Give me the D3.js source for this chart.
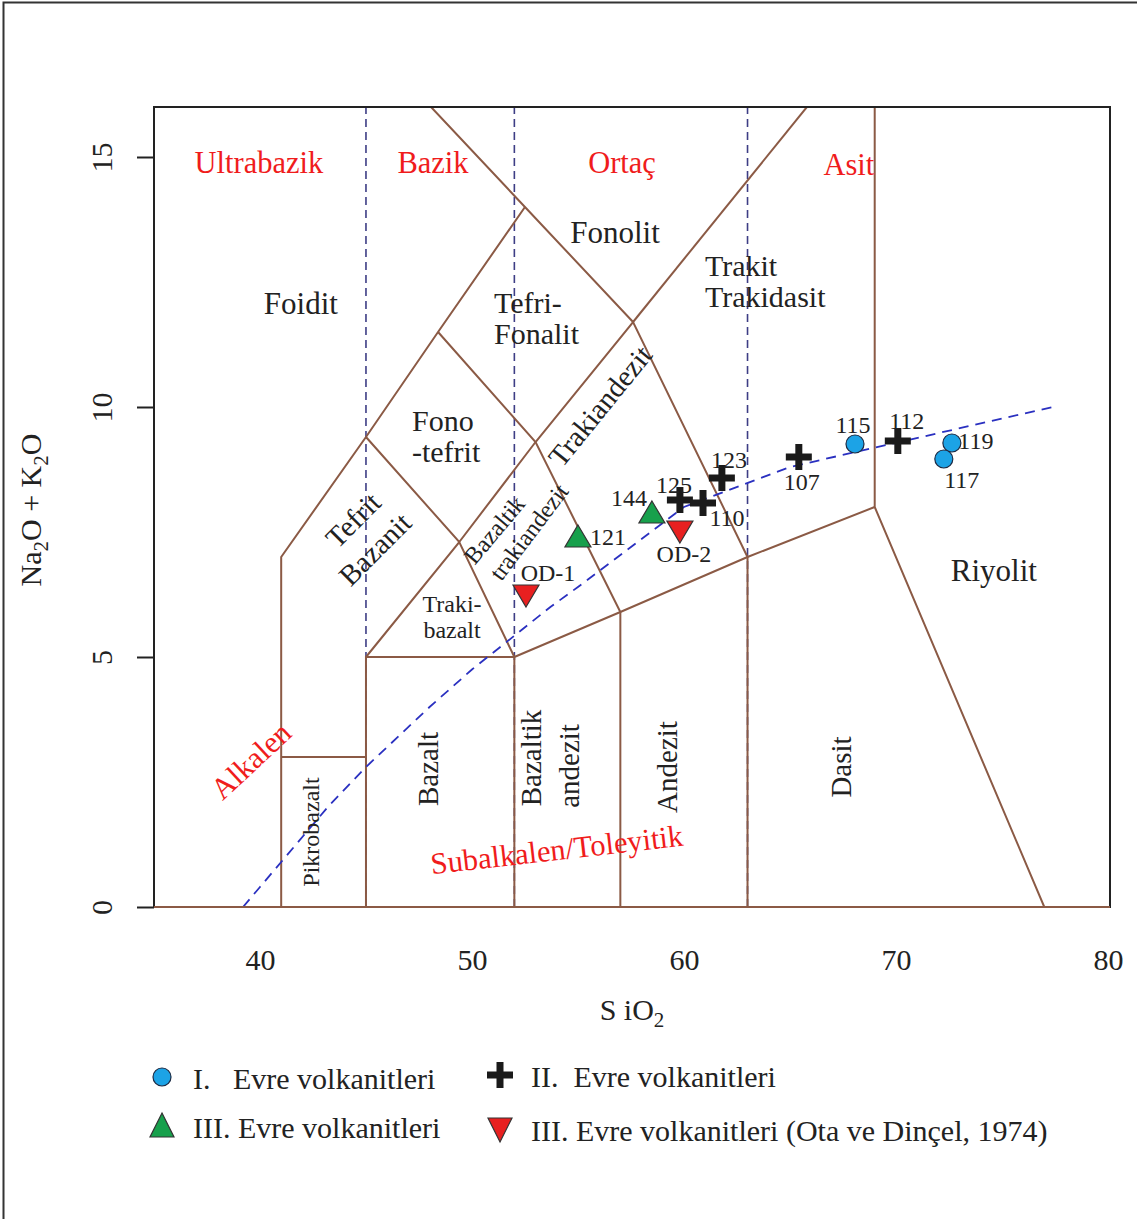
<!DOCTYPE html>
<meta charset="utf-8">
<title>TAS diyagramı</title>
<style>
  body { margin: 0; background: #fff; }
  svg text { font-family: "Liberation Serif", "Times New Roman", serif; }
</style>
<body>
<div id="chart"></div>
<script src="https://d3js.org/d3.v7.min.js"></script>
<script>
// ---- data (SiO2, Na2O+K2O) ----
var xTicks = [40, 50, 60, 70, 80];
var yTicks = [0, 5, 10, 15];

// TAS field boundaries (Le Bas et al., 1986), polylines
var fieldLines = [
  [[35, 0], [80.1, 0]],
  [[41, 0], [41, 7], [45, 9.4], [48.4, 11.5], [52.5, 14]],
  [[48.07, 16], [52.5, 14], [57.6, 11.7]],
  [[57.6, 11.7], [65.8, 16]],
  [[41, 3], [45, 3]],
  [[45, 0], [45, 5], [52, 5]],
  [[52, 0], [52, 5], [57, 5.9], [63, 7], [69, 8]],
  [[57, 0], [57, 5.9]],
  [[63, 0], [63, 7]],
  [[69, 16], [69, 8], [77, 0]],
  [[45, 5], [49.4, 7.3], [52, 5]],
  [[45, 9.4], [49.4, 7.3], [53, 9.3], [57.6, 11.7], [63, 7]],
  [[48.4, 11.5], [53, 9.3], [57, 5.9]]
];

// silica divisions: ultrabazik / bazik / ortaç / asit
var silicaSplits = [45, 52, 63];

// alkaline / subalkaline divide (Irvine & Baragar, 1971)
var alkX = [39.2, 40, 43.2, 45, 48, 50, 53.7, 55, 60, 65, 77.4];
var alkY = [0, 0.4, 2, 2.8, 4, 4.75, 6, 6.4, 8, 8.8, 10];

// samples
var evre1 = [
  {id: "115", x: 68.07, y: 9.26},
  {id: "119", x: 72.64, y: 9.28},
  {id: "117", x: 72.26, y: 8.96}
];
var evre2 = [
  {id: "123", x: 61.79, y: 8.58},
  {id: "125", x: 59.81, y: 8.14},
  {id: "110", x: 60.9, y: 8.08},
  {id: "107", x: 65.42, y: 9.0},
  {id: "112", x: 70.09, y: 9.32}
];
var evre3 = [
  {id: "144", x: 58.49, y: 7.88},
  {id: "121", x: 55.0, y: 7.4}
];
var evre3ota = [
  {id: "OD-1", x: 52.55, y: 6.24},
  {id: "OD-2", x: 59.81, y: 7.52}
];

// field names
var fieldNames = [
  {t: "Foidit", x: 41.93, y: 12.08},
  {t: "Fonolit", x: 56.75, y: 13.5},
  {t: "Riyolit", x: 74.62, y: 6.74}
];
var fieldNamesLeft = [
  {t: "Tefri-", x: 51.04, y: 12.1},
  {t: "Fonalit", x: 51.04, y: 11.48},
  {t: "Trakit", x: 60.99, y: 12.84},
  {t: "Trakidasit", x: 60.99, y: 12.22},
  {t: "Fono", x: 47.17, y: 9.74},
  {t: "-tefrit", x: 47.17, y: 9.12}
];
var smallNames = [
  {t: "Traki-", x: 49.06, y: 6.06, a: 0},
  {t: "bazalt", x: 49.06, y: 5.54, a: 0},
  {t: "Bazaltik", x: 51.06, y: 7.54, a: -50},
  {t: "trakiandezit", x: 52.69, y: 7.5, a: -53},
  {t: "Pikrobazalt", x: 42.4, y: 1.5, a: -90}
];
var rotNames = [
  {t: "Tefrit", x: 44.39, y: 7.74, a: -45},
  {t: "Bazanit", x: 45.42, y: 7.16, a: -45},
  {t: "Trakiandezit", x: 56.04, y: 10.02, a: -51},
  {t: "Bazalt", x: 47.92, y: 2.76, a: -90},
  {t: "Bazaltik", x: 52.78, y: 2.98, a: -90},
  {t: "andezit", x: 54.58, y: 2.82, a: -90},
  {t: "Andezit", x: 59.2, y: 2.8, a: -90},
  {t: "Dasit", x: 67.41, y: 2.8, a: -90}
];
var redNames = [
  {t: "Ultrabazik", x: 39.95, y: 14.88, a: 0},
  {t: "Bazik", x: 48.16, y: 14.88, a: 0},
  {t: "Ortaç", x: 57.08, y: 14.88, a: 0},
  {t: "Asit", x: 67.78, y: 14.84, a: 0},
  {t: "Alkalen", x: 39.58, y: 2.92, a: -43},
  {t: "Subalkalen/Toleyitik", x: 54.0, y: 1.14, a: -6.5}
];

// sample label offsets (px)
var labelOffset = {
  "115": [-2, -19], "112": [9, -20], "119": [24, -2], "117": [18, 21],
  "107": [3, 25], "123": [7, -18], "125": [-6, -15], "110": [24, 15],
  "144": [-23, -15], "121": [30, 0], "OD-1": [22, -22], "OD-2": [4, 23]
};

// ---- drawing ----
var W = 1137, H = 1219;
var brown = "#8b5a45", navy = "#3d3d85", blue = "#2a30c0", ink = "#222";

var svg = d3.select("#chart").append("svg")
    .attr("width", W).attr("height", H);

svg.append("rect").attr("width", W).attr("height", H).attr("fill", "#fff");
// outer frame
svg.append("path").attr("d", "M3.5," + H + "V2.5H" + W)
    .attr("fill", "none").attr("stroke", "#333").attr("stroke-width", 2);

var x = d3.scaleLinear().domain([35, 80.1]).range([154, 1110]);
var y = d3.scaleLinear().domain([0, 16]).range([907, 107]);

svg.append("clipPath").attr("id", "plotclip")
  .append("rect")
    .attr("x", x(35)).attr("y", y(16))
    .attr("width", x(80.1) - x(35)).attr("height", y(0) - y(16));

var plot = svg.append("g").attr("clip-path", "url(#plotclip)");

var line = d3.line().x(function(d) { return x(d[0]); }).y(function(d) { return y(d[1]); });

// silica dashed lines
plot.selectAll(".split").data(silicaSplits).enter().append("line")
    .attr("x1", function(d) { return x(d); }).attr("x2", function(d) { return x(d); })
    .attr("y1", y(0)).attr("y2", y(16))
    .attr("stroke", navy).attr("stroke-width", 1.6).attr("stroke-dasharray", "8,5");

// field boundaries
plot.selectAll(".field").data(fieldLines).enter().append("path")
    .attr("d", line)
    .attr("fill", "none").attr("stroke", brown).attr("stroke-width", 2);

// alkaline divide
plot.append("path")
    .datum(alkX.map(function(v, i) { return [v, alkY[i]]; }))
    .attr("d", line)
    .attr("fill", "none").attr("stroke", blue).attr("stroke-width", 1.8)
    .attr("stroke-dasharray", "10,7");

// plot box
svg.append("rect")
    .attr("x", x(35)).attr("y", y(16))
    .attr("width", x(80.1) - x(35)).attr("height", y(0) - y(16))
    .attr("fill", "none").attr("stroke", ink).attr("stroke-width", 2);
// brown zero line over box bottom
svg.append("path").datum(fieldLines[0]).attr("d", line)
    .attr("fill", "none").attr("stroke", brown).attr("stroke-width", 2);

// axes
var yAxis = svg.append("g")
    .attr("transform", "translate(" + x(35) + ",0)")
    .call(d3.axisLeft(y).tickValues(yTicks).tickSize(17).tickFormat(d3.format("d")));
yAxis.select(".domain").remove();
yAxis.selectAll(".tick line").attr("stroke", ink).attr("stroke-width", 2);
yAxis.selectAll(".tick text")
    .attr("x", null).attr("dy", null)
    .attr("transform", "translate(-53,0) rotate(-90)")
    .attr("text-anchor", "middle").attr("dominant-baseline", "central")
    .style("font-size", "30px").style("font-family", "Liberation Serif").attr("fill", ink);

var xAxis = svg.append("g")
    .attr("transform", "translate(0," + y(0) + ")")
    .call(d3.axisBottom(x).tickValues(xTicks).tickSize(0).tickFormat(d3.format("d")));
xAxis.select(".domain").remove();
xAxis.selectAll(".tick text")
    .attr("y", 52).attr("dy", null)
    .attr("dominant-baseline", "central")
    .style("font-size", "30px").style("font-family", "Liberation Serif").attr("fill", ink);

// axis titles (subscripts via dy)
var yt = svg.append("text")
    .attr("transform", "translate(41,510) rotate(-90)")
    .attr("text-anchor", "middle")
    .attr("fill", ink).style("font-size", "30px");
yt.append("tspan").text("Na");
yt.append("tspan").text("2").attr("dy", 7).style("font-size", "21px");
yt.append("tspan").text("O + K").attr("dy", -7);
yt.append("tspan").text("2").attr("dy", 7).style("font-size", "21px");
yt.append("tspan").text("O").attr("dy", -7);

var xt = svg.append("text")
    .attr("x", 632).attr("y", 1020)
    .attr("text-anchor", "middle")
    .attr("fill", ink).style("font-size", "30px");
xt.append("tspan").text("S iO");
xt.append("tspan").text("2").attr("dy", 7).style("font-size", "21px");

// field labels
function addLabels(data, size, color, anchor) {
  svg.append("g").selectAll("text").data(data).enter().append("text")
      .attr("transform", function(d) {
        return "translate(" + x(d.x) + "," + y(d.y) + ") rotate(" + (d.a || 0) + ")";
      })
      .attr("text-anchor", anchor).attr("dominant-baseline", "central")
      .style("font-size", size + "px").attr("fill", color)
      .text(function(d) { return d.t; });
}
addLabels(fieldNames, 31, ink, "middle");
addLabels(fieldNamesLeft, 30, ink, "start");
addLabels(rotNames, 29, ink, "middle");
addLabels(smallNames, 24, ink, "middle");
addLabels(redNames, 30.5, "#f01c1c", "middle");

// symbols
var triUp = "M0,-12L13,10L-13,10Z";
var triDown = "M0,12L13,-10L-13,-10Z";
var plus = "M-13,0H13M0,-13V13";

var pts = svg.append("g");
pts.selectAll(".c1").data(evre1).enter().append("circle")
    .attr("cx", function(d) { return x(d.x); }).attr("cy", function(d) { return y(d.y); })
    .attr("r", 9).attr("fill", "#1ca3e6").attr("stroke", "#1b2a44").attr("stroke-width", 1.2);
pts.selectAll(".c2").data(evre2).enter().append("path")
    .attr("transform", function(d) { return "translate(" + x(d.x) + "," + y(d.y) + ")"; })
    .attr("d", plus).attr("stroke", "#1a1a1a").attr("stroke-width", 7);
pts.selectAll(".c3").data(evre3).enter().append("path")
    .attr("transform", function(d) { return "translate(" + x(d.x) + "," + y(d.y) + ")"; })
    .attr("d", triUp).attr("fill", "#17a04c").attr("stroke", "#333").attr("stroke-width", 1.2);
pts.selectAll(".c4").data(evre3ota).enter().append("path")
    .attr("transform", function(d) { return "translate(" + x(d.x) + "," + y(d.y) + ")"; })
    .attr("d", triDown).attr("fill", "#e82020").attr("stroke", "#333").attr("stroke-width", 1.2);

// sample labels
var allPts = evre1.concat(evre2, evre3, evre3ota);
svg.append("g").selectAll("text").data(allPts).enter().append("text")
    .attr("x", function(d) { return x(d.x) + labelOffset[d.id][0]; })
    .attr("y", function(d) { return y(d.y) + labelOffset[d.id][1]; })
    .attr("text-anchor", "middle").attr("dominant-baseline", "central")
    .style("font-size", "24px").attr("fill", ink)
    .text(function(d) { return d.id; });

// legend
var legendItems = [
  {t: "I.   Evre volkanitleri", sym: "circle", px: 162, py: 1077},
  {t: "II.  Evre volkanitleri", sym: "plus", px: 500, py: 1075},
  {t: "III. Evre volkanitleri", sym: "up", px: 162, py: 1126},
  {t: "III. Evre volkanitleri (Ota ve Dinçel, 1974)", sym: "down", px: 500, py: 1129}
];
var lg = svg.append("g").selectAll("g").data(legendItems).enter().append("g")
    .attr("transform", function(d) { return "translate(" + d.px + "," + d.py + ")"; });
lg.each(function(d) {
  var g = d3.select(this);
  if (d.sym === "circle") g.append("circle").attr("r", 9).attr("fill", "#1ca3e6").attr("stroke", "#1b2a44").attr("stroke-width", 1.2);
  if (d.sym === "plus") g.append("path").attr("d", plus).attr("stroke", "#1a1a1a").attr("stroke-width", 7);
  if (d.sym === "up") g.append("path").attr("d", "M0,-13L12,11L-12,11Z").attr("fill", "#17a04c").attr("stroke", "#333").attr("stroke-width", 1.2);
  if (d.sym === "down") g.append("path").attr("d", "M0,13L12,-11L-12,-11Z").attr("fill", "#e82020").attr("stroke", "#333").attr("stroke-width", 1.2);
});
lg.append("text")
    .attr("x", 31).attr("y", 1)
    .attr("dominant-baseline", "central")
    .attr("xml:space", "preserve").style("white-space", "pre")
    .style("font-size", "30px").attr("fill", ink)
    .text(function(d) { return d.t; });
</script>
</body>
